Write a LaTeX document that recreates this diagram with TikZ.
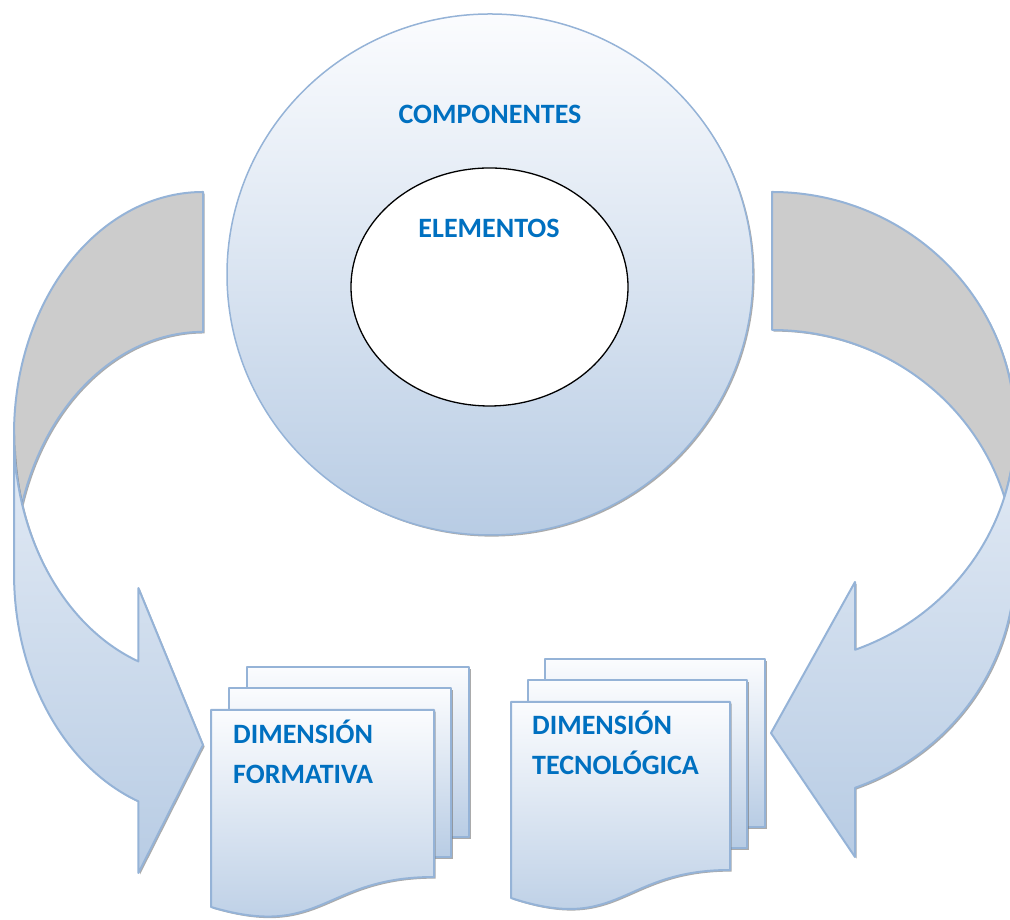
\documentclass[tikz,border=0pt]{standalone}
\usepackage{fontspec}
\setmainfont{Carlito}
\usetikzlibrary{shapes.geometric,shadows}
\definecolor{gtop}{RGB}{251,252,254}
\definecolor{gbot}{RGB}{184,204,228}
\definecolor{edgeblue}{RGB}{149,179,215}
\definecolor{backgrey}{RGB}{204,204,204}
\definecolor{txtblue}{RGB}{0,112,192}
\colorlet{arrtop}{gbot!36!gtop}
\begin{document}
\begin{tikzpicture}[x=1pt,y=1pt,
  shd/.style={drop shadow={shadow xshift=1.6pt,shadow yshift=-1.6pt,fill=black!55,opacity=0.6}},
  backface/.style={draw=edgeblue,line width=2pt,line join=round,fill=backgrey,shd},
  frontface/.style={draw=edgeblue,line width=2pt,line join=round,top color=arrtop,bottom color=gbot,shd},
  page/.style={draw=edgeblue,line width=2pt,line join=round,top color=gtop,bottom color=gbot,shd},
  lbl/.style={font=\bfseries\fontsize{28}{34}\selectfont,text=txtblue,inner sep=0pt}]
\useasboundingbox (0,0) rectangle (1010,920);

% ---- left curved arrow ----
\path[backface] (203,728) arc[start angle=90,end angle=196.8,x radius=189,y radius=242]
  arc[start angle=163.2,end angle=90,x radius=189,y radius=242] -- cycle;
\path[frontface] (14,486) arc[start angle=180,end angle=250,x radius=189,y radius=242]
  -- (138.4,332) -- (203,175) -- (138.4,47) -- (138.4,118.6)
  arc[start angle=250,end angle=180,x radius=189,y radius=242] -- cycle;

% ---- right curved arrow ----
\path[backface] (772,728) arc[start angle=90,end angle=-17,x radius=243,y radius=236]
  arc[start angle=17,end angle=90,x radius=243,y radius=236] -- cycle;
\path[frontface] (1015,492) arc[start angle=0,end angle=-70,x radius=243,y radius=236]
  -- (855,338) -- (771,187) -- (855,63) -- (855.1,132.2)
  arc[start angle=-70,end angle=0,x radius=243,y radius=236] -- cycle;

% ---- central circle ----
\node[ellipse,draw=edgeblue,line width=1.5pt,top color=gtop,bottom color=gbot,shd,
      minimum width=526,minimum height=521,inner sep=0pt] (comp) at (490,645.5) {};
\node[ellipse,draw=black,line width=1.3pt,fill=white,
      minimum width=277,minimum height=238,inner sep=0pt] (elem) at (489.5,633) {};
\node[lbl,anchor=base] (comptxt) at (490,796) {COMPONENTES};
\node[lbl,anchor=base] (elemtxt) at (489,682) {ELEMENTOS};

% ---- left document stack ----
\path[page] (247,253) rectangle (469,83);
\path[page] (229,232) rectangle (451,63);
\path[page] (211,210) -- (434,210) -- (434,43)
  .. controls (322.5,43) and (322.5,-20) .. (211,13) -- cycle;
\node[lbl,anchor=base west] (dfa) at (233,176) {DIMENSIÓN};
\node[lbl,anchor=base west] (dfb) at (233,136) {FORMATIVA};

% ---- right document stack ----
\path[page] (545,261) rectangle (765,93);
\path[page] (528,240) rectangle (747,72);
\path[page] (511,218) -- (730,218) -- (730,50)
  .. controls (620.5,50) and (620.5,-14) .. (511,22) -- cycle;
\node[lbl,anchor=base west] (dta) at (532,185) {DIMENSIÓN};
\node[lbl,anchor=base west] (dtb) at (532,145) {TECNOLÓGICA};
\end{tikzpicture}
\end{document}
